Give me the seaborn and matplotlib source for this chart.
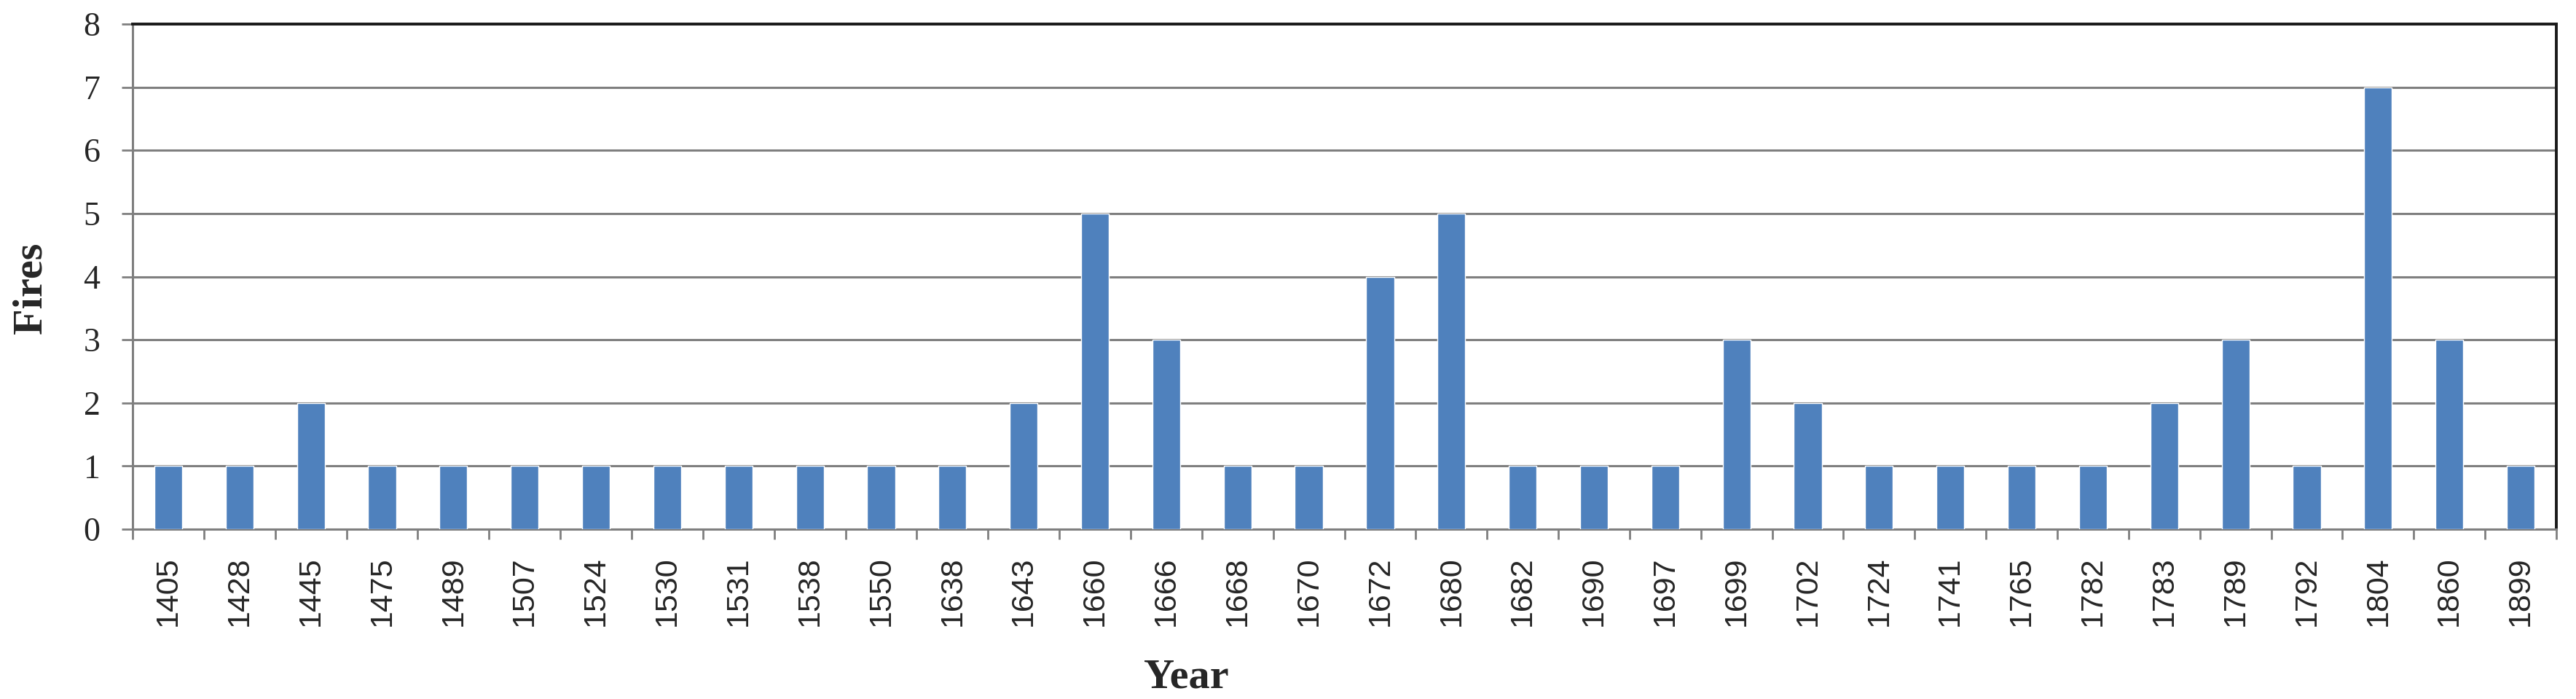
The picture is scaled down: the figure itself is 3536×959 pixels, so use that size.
import matplotlib
matplotlib.use('Agg')
import matplotlib.pyplot as plt
import seaborn as sns
import numpy as np
from matplotlib.ticker import FixedLocator

# данные
years = ['1405', '1428', '1445', '1475', '1489', '1507', '1524', '1530', '1531', '1538',
         '1550', '1638', '1643', '1660', '1666', '1668', '1670', '1672', '1680', '1682',
         '1690', '1697', '1699', '1702', '1724', '1741', '1765', '1782', '1783', '1789',
         '1792', '1804', '1860', '1899']
fires = [1, 1, 2, 1, 1, 1, 1, 1, 1, 1,
         1, 1, 2, 5, 3, 1, 1, 4, 5, 1,
         1, 1, 3, 2, 1, 1, 1, 1, 2, 3,
         1, 7, 3, 1]

sns.set_style('white')

fig = plt.figure(figsize=(35.36, 9.59), dpi=100)
ax = fig.add_axes([182 / 3536, 1 - 726 / 959, (3509 - 182) / 3536, (726 - 33) / 959])

sns.barplot(x=years, y=fires, color='#4F81BD', saturation=1, width=0.39, ax=ax, zorder=3)

ax.set_ylim(0, 8)
ax.set_xlim(-0.5, len(years) - 0.5)
ax.set_yticks(range(0, 9))
ax.yaxis.grid(True, color='#7f7f7f', linewidth=2.2, zorder=0)
ax.set_axisbelow(True)

# подписи осей
ax.set_xlabel('')
ax.set_ylabel('')
ax.tick_params(axis='y', direction='out', length=11, width=2, color='#7f7f7f', pad=21,
               labelsize=33, left=True)
for t in ax.get_yticklabels():
    t.set_fontfamily('Liberation Serif')

ax.tick_params(axis='x', which='major', length=0, pad=27, labelsize=31, labelrotation=90)
for t in ax.get_xticklabels():
    t.set_fontfamily('Liberation Sans')
ax.xaxis.set_minor_locator(FixedLocator(np.arange(-0.5, len(years), 1.0)))
ax.tick_params(axis='x', which='minor', direction='out', length=10, width=2,
               color='#7f7f7f', bottom=True)

for side in ['left', 'bottom']:
    ax.spines[side].set_color('#7f7f7f')
    ax.spines[side].set_linewidth(2.2)
for side in ['top', 'right']:
    ax.spines[side].set_color('#1a1a1a')
    ax.spines[side].set_linewidth(2.8)
    ax.spines[side].set_visible(True)

fig.text(1628 / 3536, 1 - 943 / 959, 'Year', ha='center', va='baseline',
         fontsize=42, fontweight='bold', family='Liberation Serif')
fig.text(42 / 3536, 1 - 395 / 959, 'Fires', ha='center', va='center', rotation=90,
         fontsize=42, fontweight='bold', family='Liberation Serif')

fig.savefig('out.png', dpi=100, facecolor='white')
